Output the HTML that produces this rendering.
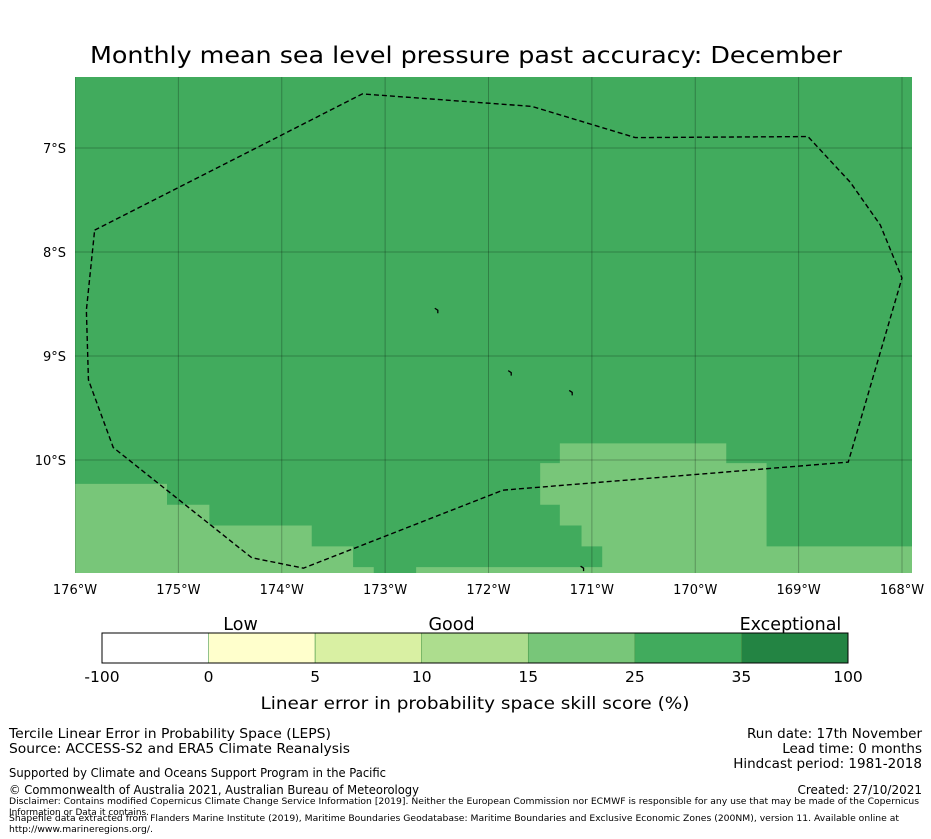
<!DOCTYPE html>
<html><head><meta charset="utf-8"><style>
html,body{margin:0;padding:0;background:#fff;}
svg{display:block;font-family:"DejaVu Sans","Liberation Sans",sans-serif;}
</style></head><body>
<svg id="chart" width="931" height="839" viewBox="0 0 931 839">
<text x="466" y="63" font-size="23" text-anchor="middle" textLength="752" lengthAdjust="spacingAndGlyphs">Monthly mean sea level pressure past accuracy: December</text>
<g id="map"></g>
<g id="axes"></g>
<g id="cbar"></g>
<g font-size="13.5">
<text x="9" y="738" textLength="322" lengthAdjust="spacingAndGlyphs">Tercile Linear Error in Probability Space (LEPS)</text>
<text x="9" y="753" textLength="341" lengthAdjust="spacingAndGlyphs">Source: ACCESS-S2 and ERA5 Climate Reanalysis</text>
<text x="922" y="738" text-anchor="end">Run date: 17th November</text>
<text x="922" y="753" text-anchor="end">Lead time: 0 months</text>
<text x="922" y="768" text-anchor="end">Hindcast period: 1981-2018</text>
<text x="9" y="777" font-size="12" textLength="377" lengthAdjust="spacingAndGlyphs">Supported by Climate and Oceans Support Program in the Pacific</text>
<text x="9" y="794" font-size="12" textLength="410" lengthAdjust="spacingAndGlyphs">© Commonwealth of Australia 2021, Australian Bureau of Meteorology</text>
<text x="922" y="794" font-size="12" text-anchor="end">Created: 27/10/2021</text>
<text x="9" y="804" font-size="9" textLength="910" lengthAdjust="spacingAndGlyphs">Disclaimer: Contains modified Copernicus Climate Change Service Information [2019]. Neither the European Commission nor ECMWF is responsible for any use that may be made of the Copernicus</text>
<text x="9" y="815" font-size="9" textLength="140" lengthAdjust="spacingAndGlyphs">Information or Data it contains.</text>
<text x="9" y="821" font-size="9" textLength="890" lengthAdjust="spacingAndGlyphs">Shapefile data extracted from Flanders Marine Institute (2019), Maritime Boundaries Geodatabase: Maritime Boundaries and Exclusive Economic Zones (200NM), version 11. Available online at</text>
<text x="9" y="832" font-size="9" textLength="144" lengthAdjust="spacingAndGlyphs">http://www.marineregions.org/.</text>
</g>
</svg>
<script>
const lonTicks=[-176,-175,-174,-173,-172,-171,-170,-169,-168];
const latTicks=[-7,-8,-9,-10];
const boundaryLon=[-175.81,-173.22,-171.58,-170.58,-168.91,-168.50,-168.21,-168.00,-168.52,-171.86,-173.79,-174.29,-175.63,-175.87,-175.89,-175.81];
const boundaryLat=[-7.79,-6.48,-6.60,-6.90,-6.89,-7.33,-7.74,-8.25,-10.02,-10.29,-11.04,-10.94,-9.88,-9.23,-8.56,-7.79];
const regionALon=[-176.1,-175.11,-175.11,-174.70,-174.70,-173.71,-173.71,-173.31,-173.31,-173.11,-173.11,-176.1];
const regionALat=[-10.23,-10.23,-10.43,-10.43,-10.63,-10.63,-10.83,-10.83,-11.03,-11.03,-11.09,-11.09];
const regionBLon=[-172.70,-172.70,-170.90,-170.90,-171.10,-171.10,-171.31,-171.31,-171.50,-171.50,-171.31,-171.31,-169.70,-169.70,-169.31,-169.31,-167.9,-167.9];
const regionBLat=[-11.09,-11.03,-11.03,-10.83,-10.83,-10.63,-10.63,-10.43,-10.43,-10.03,-10.03,-9.84,-9.84,-10.03,-10.03,-10.83,-10.83,-11.09];
const islandLon=[-172.50,-171.79,-171.20,-171.09];
const islandLat=[-8.56,-9.16,-9.35,-11.04];
const cbLabels=["-100","0","5","10","15","25","35","100"];
const cbColors=["#ffffff","#ffffcc","#d9f0a3","#addd8e","#78c679","#41ab5d","#238443"];
const catLabels=["Low","Good","Exceptional"];
const catPos=[1.3,3.28,6.46];

const NS="http://www.w3.org/2000/svg";
const X0=75,X1=912,Y0=77,Y1=573;
const sx=lon=>X0+(lon+176)*103.375;
const sy=lat=>148+(-7-lat)*104;
function mk(t,a,p){const e=document.createElementNS(NS,t);for(const k in a)e.setAttribute(k,a[k]);p.appendChild(e);return e;}
const map=document.getElementById('map'),axes=document.getElementById('axes'),cb=document.getElementById('cbar');
const clip=mk('clipPath',{id:'mapclip'},map);
mk('rect',{x:X0,y:Y0,width:X1-X0,height:Y1-Y0},clip);
const bg=mk('rect',{x:X0,y:Y0,width:X1-X0,height:Y1-Y0,fill:'#41ab5d'},map);


const inner=mk('g',{'clip-path':'url(#mapclip)'},map);
[[regionALon,regionALat,'skill-region-southwest'],[regionBLon,regionBLat,'skill-region-southeast']].forEach(([lo,la,n])=>{
 const pts=lo.map((v,i)=>sx(v)+','+sy(la[i])).join(' ');
 const p=mk('polygon',{points:pts,fill:'#78c679'},inner);
 
 
});
lonTicks.forEach(l=>{
 const g=mk('line',{x1:sx(l),x2:sx(l),y1:Y0,y2:Y1,stroke:'#000','stroke-opacity':0.25,'stroke-width':1},inner);
 
 
 const t=mk('text',{x:sx(l),y:594,'font-size':13,'text-anchor':'middle'},axes);
 t.textContent=Math.abs(l)+'°W';
 
 
});
latTicks.forEach(l=>{
 const g=mk('line',{x1:X0,x2:X1,y1:sy(l),y2:sy(l),stroke:'#000','stroke-opacity':0.25,'stroke-width':1},inner);
 
 
 const t=mk('text',{x:66,y:sy(l)+5,'font-size':13,'text-anchor':'end'},axes);
 t.textContent=Math.abs(l)+'°S';
 
 
});
const bpts=boundaryLon.map((v,i)=>sx(v)+','+sy(boundaryLat[i])).join(' ');
const b=mk('polyline',{points:bpts,fill:'none',stroke:'#000','stroke-width':1.4,'stroke-dasharray':'5,3'},inner);


islandLon.forEach((v,i)=>{
 const e=mk('path',{d:`M${sx(v)-2},${sy(islandLat[i])-2} l3,2 l0,3`,stroke:'#000','stroke-width':1.3,fill:'none'},inner);
 
 
});
const cx0=102,cx1=848,cy=633,ch=30,cw=(cx1-cx0)/cbColors.length;
cbColors.forEach((c,i)=>{
 const r=mk('rect',{x:cx0+i*cw,y:cy,width:cw,height:ch,fill:c,stroke:i>0?'#4a9a4a':'none','stroke-width':0.6},cb);
 
 
});
const fr=mk('rect',{x:cx0,y:cy,width:cx1-cx0,height:ch,fill:'none',stroke:'#000','stroke-width':1},cb);


cbLabels.forEach((s,i)=>{
 const t=mk('text',{x:cx0+i*cw,y:682,'font-size':15.5,'text-anchor':'middle'},cb);
 t.textContent=s;
 
 
});
catLabels.forEach((s,i)=>{
 const t=mk('text',{x:cx0+catPos[i]*cw,y:630,'font-size':17.5,'text-anchor':'middle'},cb);
 t.textContent=s;
 
 
});
const ct=mk('text',{x:475,y:709,'font-size':17,'text-anchor':'middle',textLength:429,lengthAdjust:'spacingAndGlyphs'},cb);
ct.textContent='Linear error in probability space skill score (%)';


</script>
</body></html>
